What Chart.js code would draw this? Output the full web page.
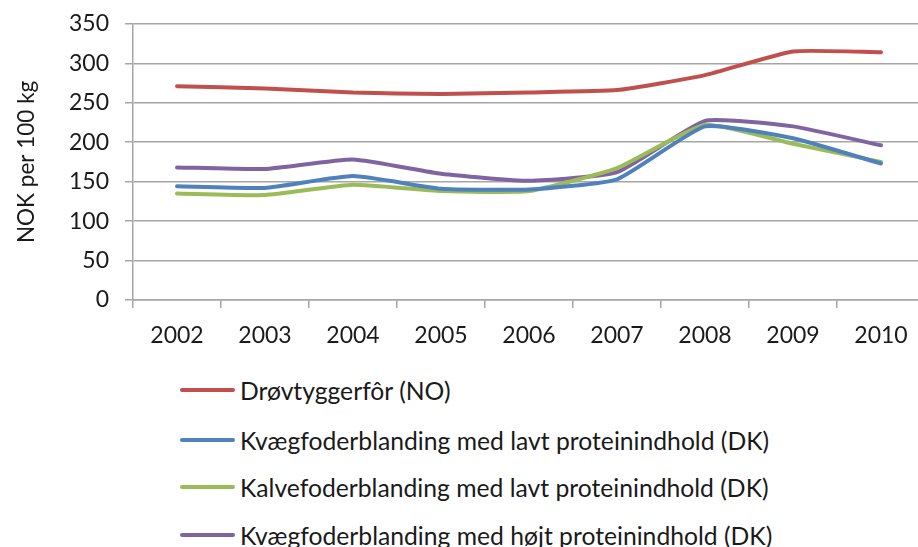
<!DOCTYPE html>
<html>
<head>
<meta charset="utf-8">
<script src="https://cdn.jsdelivr.net/npm/chart.js@4/dist/chart.umd.min.js"></script>
<style>
  html, body { margin: 0; padding: 0; background: #fff; overflow: hidden; width: 918px; height: 547px; }
  #wrap { position: absolute; left: 0; top: -6px; width: 925px; height: 360px; }
  #legend { position: absolute; left: 180px; top: 0; font-family: Lato, "Open Sans", sans-serif; font-size: 24.7px; color: #1a1a1a; }
  .row { position: absolute; left: 0; white-space: nowrap; display: flex; align-items: center; height: 30px; }
  .swatch { width: 55px; height: 4px; border-radius: 2px; margin-right: 5px; }
</style>
</head>
<body>
<div id="wrap"><canvas id="c"></canvas></div>
<div id="legend"></div>
<script>
// Feed prices, NOK per 100 kg
const years = ['2002', '2003', '2004', '2005', '2006', '2007', '2008', '2009', '2010'];
const droevtyggerfor   = [271, 268, 263, 261, 263, 266, 285, 315, 314];
const kvaegLavProtein  = [144, 142, 157, 141, 140, 153, 220, 205, 173];
const kalvLavProtein   = [135, 133, 146, 138, 138, 167, 222, 198, 175];
const kvaegHoejProtein = [168, 166, 178, 160, 151, 162, 227, 220, 196];

const seriesNames = [
  'Drøvtyggerfôr (NO)',
  'Kvægfoderblanding med lavt proteinindhold (DK)',
  'Kalvefoderblanding med lavt proteinindhold (DK)',
  'Kvægfoderblanding med højt proteinindhold (DK)'
];
const seriesColors = ['#C0504D', '#4F81BD', '#9BBB59', '#8064A2'];
const yTicks = [0, 50, 100, 150, 200, 250, 300, 350];

const font = { family: 'Lato, "Open Sans", sans-serif', size: 23 };
const gridColor = '#a6a6a6';

const datasets = [droevtyggerfor, kvaegLavProtein, kalvLavProtein, kvaegHoejProtein].map((d, i) => ({
  label: seriesNames[i],
  data: d,
  borderColor: seriesColors[i],
  backgroundColor: seriesColors[i],
  borderWidth: 4,
  pointRadius: 0,
  tension: 0.15,
  borderCapStyle: 'round',
  borderJoinStyle: 'round'
}));

const chart = new Chart(document.getElementById('c'), {
  type: 'line',
  data: { labels: years, datasets },
  options: {
    responsive: true,
    maintainAspectRatio: false,
    animation: false,
    layout: { padding: { top: 18, right: 0, left: 0, bottom: 0 } },
    plugins: { legend: { display: false }, tooltip: { enabled: false } },
    scales: {
      x: {
        offset: true,
        grid: { offset: true, drawOnChartArea: false, color: gridColor, lineWidth: 1.5, tickLength: 8 },
        border: { color: gridColor, width: 1.5 },
        ticks: { font, color: '#1a1a1a', padding: 14, maxRotation: 0 },
        afterFit: s => { s.height = 54; }
      },
      y: {
        min: 0, max: 350,
        afterBuildTicks: s => { s.ticks = yTicks.map(v => ({ value: v })); },
        grid: { color: gridColor, lineWidth: 1.5, tickLength: 8 },
        border: { color: gridColor, width: 1.5 },
        ticks: { font, color: '#1a1a1a', padding: 16 },
        title: {
          display: true,
          text: 'NOK per 100 kg',
          font: { family: font.family, size: 22.5 },
          color: '#1a1a1a',
          padding: { top: 13, bottom: 4 }
        },
        afterFit: s => { s.width = 133; }
      }
    }
  }
});

// Vertical legend below the plot
const legend = document.getElementById('legend');
const rowCenters = [390, 440, 487, 535];
chart.data.datasets.forEach((ds, i) => {
  const row = document.createElement('div');
  row.className = 'row';
  row.style.top = (rowCenters[i] - 15) + 'px';
  const sw = document.createElement('span');
  sw.className = 'swatch';
  sw.style.background = ds.borderColor;
  const tx = document.createElement('span');
  tx.textContent = ds.label;
  row.appendChild(sw);
  row.appendChild(tx);
  legend.appendChild(row);
});
</script>
</body>
</html>
